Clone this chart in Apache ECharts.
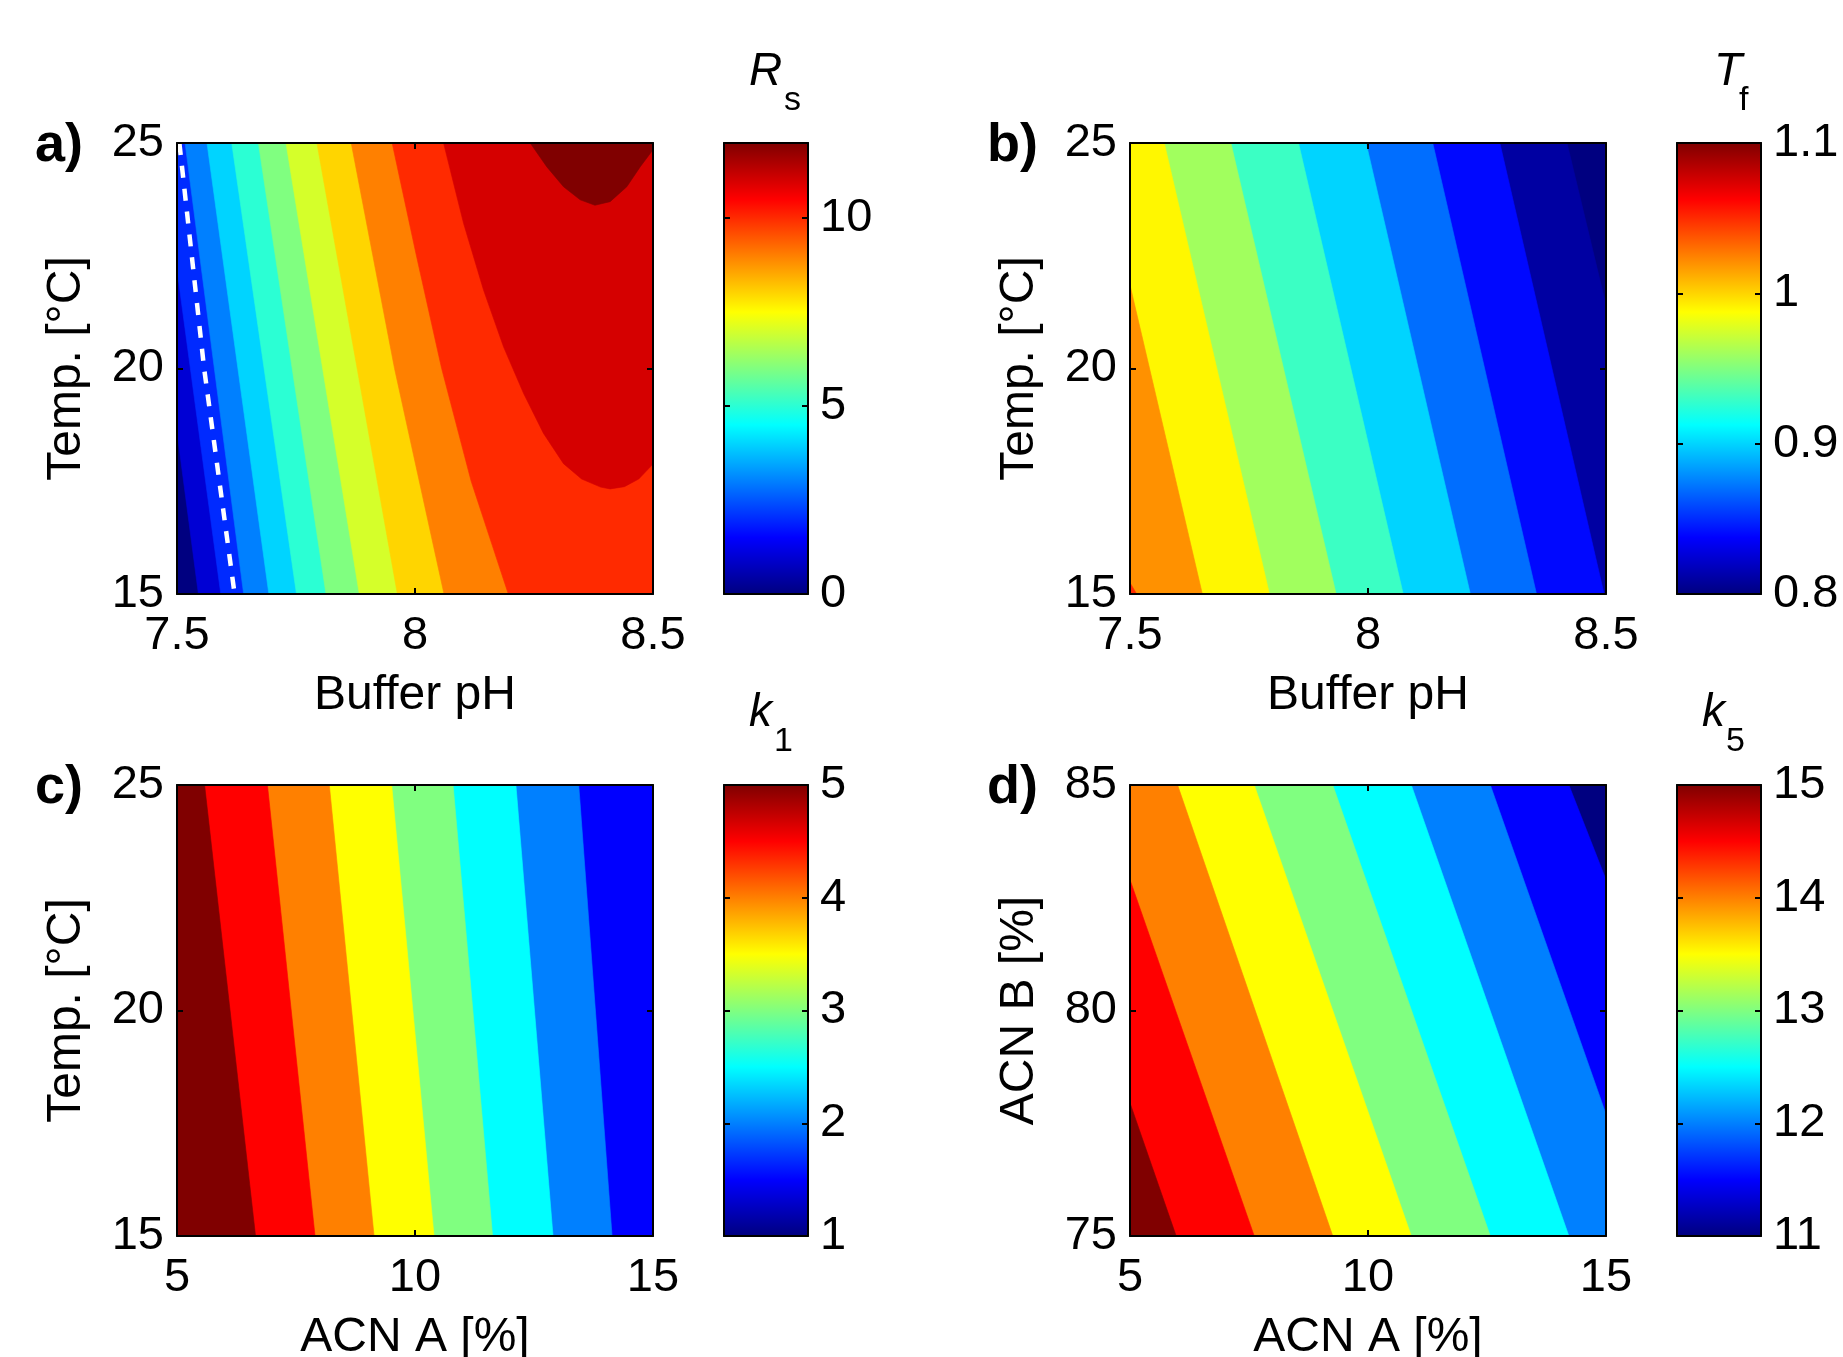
<!DOCTYPE html>
<html>
<head>
<meta charset="utf-8">
<title>Response surfaces</title>
<script src="https://cdn.jsdelivr.net/npm/echarts@6/dist/echarts.min.js"></script>
<style>
  html, body { margin: 0; padding: 0; background: #fff; }
  #chart { width: 1843px; height: 1357px; }
</style>
</head>
<body>
<div id="chart"></div>
<script>
// axis tick labels
const pHTicks = [7.5, 8, 8.5]
const tempTicks = [15, 20, 25]
const acnATicks = [5, 10, 15]
const acnBTicks = [75, 80, 85]

// colour bar ranges and their tick labels
const rsScale = [0, 12]
const rsTicks = [0, 5, 10]
const tfScale = [0.8, 1.1]
const tfTicks = [0.8, 0.9, 1, 1.1]
const k1Scale = [1, 5]
const k1Ticks = [1, 2, 3, 4, 5]
const k5Scale = [11, 15]
const k5Ticks = [11, 12, 13, 14, 15]

// a) Rs: level of the lowest band, then one contour line per higher level
const rsLevels = [0, 1, 2, 3, 4, 5, 6, 7, 8, 9, 10, 11, 12]
const rsLines = [
  [[7.5, 18.6], [7.545, 15]],
  [[7.5, 22.2], [7.592, 15]],
  [[7.517, 25], [7.640, 15]],
  [[7.563, 25], [7.693, 15]],
  [[7.615, 25], [7.751, 15]],
  [[7.671, 25], [7.813, 15]],
  [[7.729, 25], [7.883, 15]],
  [[7.794, 25], [7.963, 15]],
  [[7.866, 25], [7.957, 20], [8.061, 15]],
  [[7.952, 25], [8.003, 22.5], [8.056, 20], [8.118, 17.5], [8.196, 15]],
  [[8.060, 25], [8.102, 23.22], [8.144, 21.74], [8.186, 20.48], [8.228, 19.45], [8.270, 18.56],
   [8.312, 17.89], [8.350, 17.55], [8.390, 17.37], [8.410, 17.33], [8.440, 17.38], [8.470, 17.55], [8.5, 17.88]],
  [[8.242, 25], [8.277, 24.47], [8.312, 24.03], [8.347, 23.74], [8.378, 23.62], [8.410, 23.70],
   [8.445, 24.03], [8.473, 24.47], [8.5, 24.85]]
]
const rsDashed = [[7.505, 25], [7.557, 20], [7.621, 15]]

// b) Tf
const tfLevels = [0.78, 0.81, 0.84, 0.87, 0.90, 0.93, 0.96, 0.99, 1.02, 1.05]
const tfLines = [
  [[8.418, 25], [8.5, 21.4]],
  [[8.277, 25], [8.496, 15]],
  [[8.136, 25], [8.354, 15]],
  [[7.996, 25], [8.215, 15]],
  [[7.854, 25], [8.074, 15]],
  [[7.712, 25], [7.933, 15]],
  [[7.572, 25], [7.793, 15]],
  [[7.5, 21.85], [7.652, 15]],
  [[7.5, 15.25], [7.514, 15]]
]

// c) k1
const k1Levels = [1.5, 2, 2.5, 3, 3.5, 4, 4.5, 5]
const k1Lines = [
  [[13.44, 25], [14.14, 15]],
  [[12.12, 25], [12.90, 15]],
  [[10.80, 25], [11.63, 15]],
  [[9.51, 25], [10.40, 15]],
  [[8.20, 25], [9.14, 15]],
  [[6.90, 25], [7.90, 15]],
  [[5.58, 25], [6.65, 15]]
]

// d) k5
const k5Levels = [11, 11.5, 12, 12.5, 13, 13.5, 14, 14.5, 15]
const k5Lines = [
  [[14.22, 85], [15, 82.9]],
  [[12.57, 85], [15, 77.7]],
  [[10.91, 85], [14.22, 75]],
  [[9.26, 85], [12.57, 75]],
  [[7.61, 85], [10.91, 75]],
  [[6.00, 85], [9.26, 75]],
  [[5, 82.9], [7.61, 75]],
  [[5, 77.95], [5.97, 75]]
]

const font = "'Liberation Sans', Arial, Helvetica, sans-serif"

function jet(t) {
  t = Math.min(1, Math.max(0, t))
  const c = v => Math.round(255 * Math.min(1, Math.max(0, v)))
  return 'rgb(' + c(1.5 - Math.abs(4 * t - 3)) + ',' + c(1.5 - Math.abs(4 * t - 2)) + ',' + c(1.5 - Math.abs(4 * t - 1)) + ')'
}

// position of a border point along the plot frame, clockwise from top-left
function edgeT(p, e) {
  const eps = 1e-9
  if (Math.abs(p[1] - e.y1) < eps) return (p[0] - e.x0) / (e.x1 - e.x0)
  if (Math.abs(p[0] - e.x1) < eps) return 1 + (e.y1 - p[1]) / (e.y1 - e.y0)
  if (Math.abs(p[1] - e.y0) < eps) return 2 + (e.x1 - p[0]) / (e.x1 - e.x0)
  return 3 + (p[1] - e.y0) / (e.y1 - e.y0)
}

// close a contour line along the frame on the side of the higher values
function highSide(line, e, dir) {
  const corners = [[e.x0, e.y1], [e.x1, e.y1], [e.x1, e.y0], [e.x0, e.y0]]
  const ts = edgeT(line[0], e)
  const te = edgeT(line[line.length - 1], e)
  const pts = line.slice()
  if (dir === 'cw') {
    const s = ts <= te ? ts + 4 : ts
    for (let k = Math.floor(te) + 1; k < s; k++) pts.push(corners[k % 4])
  } else {
    const s = ts >= te ? ts - 4 : ts
    for (let k = Math.ceil(te) - 1; k > s; k--) pts.push(corners[((k % 4) + 4) % 4])
  }
  return pts
}

const step = t => +(t[1] - t[0]).toFixed(6)

const panels = [
  { xTicks: pHTicks, yTicks: tempTicks, xName: 'Buffer pH', yName: 'Temp. [°C]',
    levels: rsLevels, lines: rsLines, scale: rsScale, barTicks: rsTicks, dir: 'ccw' },
  { xTicks: pHTicks, yTicks: tempTicks, xName: 'Buffer pH', yName: 'Temp. [°C]',
    levels: tfLevels, lines: tfLines, scale: tfScale, barTicks: tfTicks, dir: 'cw' },
  { xTicks: acnATicks, yTicks: tempTicks, xName: 'ACN A [%]', yName: 'Temp. [°C]',
    levels: k1Levels, lines: k1Lines, scale: k1Scale, barTicks: k1Ticks, dir: 'cw' },
  { xTicks: acnATicks, yTicks: acnBTicks, xName: 'ACN A [%]', yName: 'ACN B [%]',
    levels: k5Levels, lines: k5Lines, scale: k5Scale, barTicks: k5Ticks, dir: 'cw' }
]

const plotLeft = [177, 1130]
const barLeft = [724, 1677]
const rowTop = [143, 785]

const grid = []
panels.forEach((p, i) => grid.push({ left: plotLeft[i % 2], top: rowTop[i >> 1], width: 476, height: 451, outerBoundsMode: 'none' }))
panels.forEach((p, i) => grid.push({ left: barLeft[i % 2], top: rowTop[i >> 1], width: 84, height: 451, outerBoundsMode: 'none' }))

const frameLine = { show: true, onZero: false, lineStyle: { color: '#000', width: 2 } }
const inTick = { show: true, inside: true, length: 6, lineStyle: { color: '#000', width: 2 } }
const labelStyle = { show: true, color: '#000', fontSize: 47, fontFamily: font }
const nameStyle = { color: '#000', fontSize: 48, fontFamily: font }

function axis(gridIndex, position, min, max, interval, extra) {
  return Object.assign({
    type: 'value', gridIndex, position, min, max, interval, z: 10,
    axisLine: frameLine, axisTick: inTick, axisLabel: { show: false }, splitLine: { show: false }
  }, extra)
}

const xAxis = []
const yAxis = []
panels.forEach((p, i) => {
  const xr = [p.xTicks[0], p.xTicks[p.xTicks.length - 1]]
  const yr = [p.yTicks[0], p.yTicks[p.yTicks.length - 1]]
  xAxis[2 * i] = axis(i, 'bottom', xr[0], xr[1], step(p.xTicks), {
    axisLabel: Object.assign({ margin: 19, showMinLabel: true, showMaxLabel: true }, labelStyle),
    name: p.xName, nameLocation: 'middle', nameGap: 78, nameTextStyle: nameStyle
  })
  xAxis[2 * i + 1] = axis(i, 'top', xr[0], xr[1], step(p.xTicks))
  yAxis[2 * i] = axis(i, 'left', yr[0], yr[1], step(p.yTicks), {
    axisLabel: Object.assign({ margin: 13, showMinLabel: true, showMaxLabel: true }, labelStyle),
    name: p.yName, nameLocation: 'middle', nameRotate: 90, nameGap: 86, nameTextStyle: nameStyle
  })
  yAxis[2 * i + 1] = axis(i, 'right', yr[0], yr[1], step(p.yTicks))

  const g = 4 + i
  const noTick = { show: false }
  xAxis[2 * g] = axis(g, 'bottom', 0, 1, 1, { axisTick: noTick })
  xAxis[2 * g + 1] = axis(g, 'top', 0, 1, 1, { axisTick: noTick })
  const barMaxShown = p.barTicks.indexOf(p.scale[1]) >= 0
  yAxis[2 * g] = axis(g, 'left', p.scale[0], p.scale[1], step(p.barTicks))
  yAxis[2 * g + 1] = axis(g, 'right', p.scale[0], p.scale[1], step(p.barTicks), {
    axisLabel: Object.assign({ margin: 12, showMinLabel: true, showMaxLabel: barMaxShown }, labelStyle)
  })
})

const jetStops = [0, 0.125, 0.25, 0.375, 0.5, 0.625, 0.75, 0.875, 1].map(o => ({ offset: o, color: jet(o) }))

const series = []
panels.forEach((p, i) => {
  const e = { x0: p.xTicks[0], x1: p.xTicks[p.xTicks.length - 1], y0: p.yTicks[0], y1: p.yTicks[p.yTicks.length - 1] }
  const polys = [[[e.x0, e.y0], [e.x1, e.y0], [e.x1, e.y1], [e.x0, e.y1]]]
    .concat(p.lines.map(l => highSide(l, e, p.dir)))
  series.push({
    type: 'custom', xAxisIndex: 2 * i, yAxisIndex: 2 * i, silent: true, z: 2,
    data: p.levels.map((v, k) => [k, v]),
    renderItem: (params, api) => {
      const k = params.dataIndex
      const fill = jet((p.levels[k] - p.scale[0]) / (p.scale[1] - p.scale[0]))
      return {
        type: 'polygon',
        shape: { points: polys[k].map(pt => api.coord(pt)) },
        style: { fill, stroke: fill, lineWidth: 0.6 }
      }
    }
  })
  const g = 4 + i
  series.push({
    type: 'custom', xAxisIndex: 2 * g, yAxisIndex: 2 * g, silent: true, z: 2,
    data: [[0, p.scale[0]]],
    renderItem: (params, api) => {
      const a = api.coord([0, p.scale[0]])
      const b = api.coord([1, p.scale[1]])
      return {
        type: 'rect',
        shape: { x: a[0], y: b[1], width: b[0] - a[0], height: a[1] - b[1] },
        style: { fill: new echarts.graphic.LinearGradient(0, 1, 0, 0, jetStops) }
      }
    }
  })
})

series.push({
  type: 'line', xAxisIndex: 0, yAxisIndex: 0, data: rsDashed, symbol: 'none', silent: true, z: 5,
  lineStyle: { color: '#fff', width: 4.5, type: [12, 11] }
})

function txt(text, x, y, size, extra) {
  return {
    type: 'text', x, y, z: 20,
    style: Object.assign({ text, fontSize: size, fontFamily: font, fill: '#000', align: 'left', verticalAlign: 'middle' }, extra)
  }
}

const graphic = [
  txt('a)', 35, 146, 54, { fontWeight: 'bold' }),
  txt('b)', 987, 146, 54, { fontWeight: 'bold' }),
  txt('c)', 35, 788, 54, { fontWeight: 'bold' }),
  txt('d)', 987, 788, 54, { fontWeight: 'bold' }),
  txt('R', 749, 72, 46, { fontStyle: 'italic' }),
  txt('s', 784, 101, 34),
  txt('T', 1714, 72, 46, { fontStyle: 'italic' }),
  txt('f', 1739, 101, 34),
  txt('k', 749, 713, 46, { fontStyle: 'italic' }),
  txt('1', 774, 742, 34),
  txt('k', 1702, 713, 46, { fontStyle: 'italic' }),
  txt('5', 1726, 742, 34)
]

const chart = echarts.init(document.getElementById('chart'))
chart.setOption({
  animation: false,
  backgroundColor: '#fff',
  grid,
  xAxis,
  yAxis,
  series,
  graphic
})
</script>
</body>
</html>
